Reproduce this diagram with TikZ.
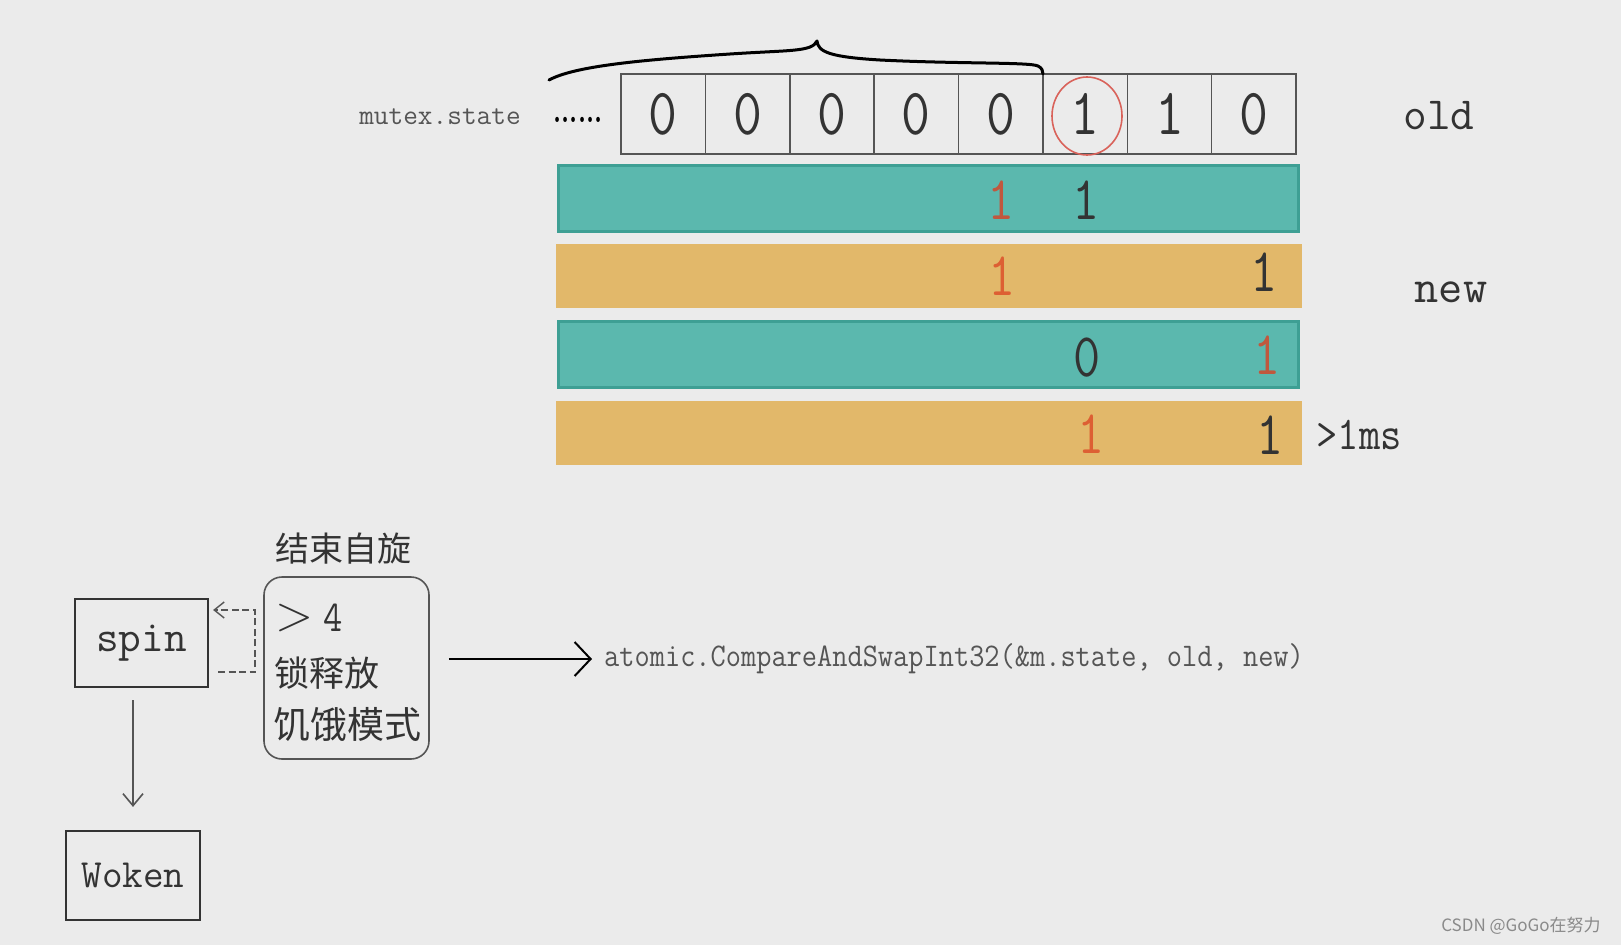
\documentclass[tikz,border=0pt]{standalone}
\usepackage{fontspec}
\newfontfamily\cjk{Noto Sans CJK SC}
\usetikzlibrary{arrows.meta,calc,shapes.geometric}
\definecolor{bg}{HTML}{EBEBEB}
\definecolor{teal1}{HTML}{5BB8AE}
\definecolor{teal2}{HTML}{3E9F94}
\definecolor{orng}{HTML}{E2B86A}
\definecolor{redd}{HTML}{DD5F33}
\definecolor{redt}{HTML}{C0583E}
\definecolor{circc}{HTML}{D9625A}
\definecolor{dk}{HTML}{333333}
\definecolor{gr}{HTML}{555555}
\definecolor{wmc}{HTML}{8A8A8A}
\begin{document}
\begin{tikzpicture}[x=1pt,y=-1pt,
  cell/.style={draw=gr, line width=1.5pt, minimum width=84.375pt, minimum height=80pt, inner sep=0pt,
     font=\ttfamily\fontsize{66}{66}\selectfont, text=dk},
  tealbar/.style={fill=teal1, draw=teal2, line width=3pt, minimum width=740pt, minimum height=66pt, inner sep=0pt},
  orangebar/.style={fill=orng, minimum width=746pt, minimum height=64pt, inner sep=0pt},
  bdig/.style={font=\ttfamily\fontsize{62}{62}\selectfont, inner sep=0pt},
  tlabel/.style={font=\ttfamily\fontsize{46}{46}\selectfont, text=dk, inner sep=0pt},
  boxnode/.style={draw=dk, line width=2.2pt, inner sep=0pt, text=dk},
  cjktext/.style={font=\cjk\fontsize{35}{35}\selectfont, text=dk, inner sep=0pt},
  barb/.style={-{Straight Barb[length=16pt,width=34pt,line width=2pt]}, line width=1.8pt}
]
\path[fill=bg, use as bounding box] (0,0) rectangle (1621,945);

% cells
\foreach \i/\d in {1/0,2/0,3/0,4/0,5/0,6/1,7/1,8/0}
  \node[cell] (c\i) at ({621+84.375*(\i-0.5)},114) {\scalebox{0.85}[1]{\d}};

% red circle
\node[draw=circc, ellipse, line width=1.6pt, minimum width=70pt, minimum height=78pt, inner sep=0pt] (circ) at (1087,116) {};

% brace
\draw[line width=3pt, line cap=round, line join=round]
  (549,80) .. controls (575,66) and (640,60) .. (730,54)
  .. controls (790,50) and (812,52) .. (817,41)
  .. controls (818,52) and (830,57) .. (880,60)
  .. controls (960,64) and (1030,62) .. (1038,66)
  .. controls (1042,68) and (1043,71) .. (1043,74);

% labels
\node[font=\ttfamily\fontsize{28.5}{28.5}\selectfont, text=gr, inner sep=0pt] (ms) at (440,117) {mutex.state};
\node[font=\rmfamily\bfseries\fontsize{36}{36}\selectfont, inner sep=0pt] (dots) at (578,120) {\scalebox{0.72}[1]{......}};
\node[tlabel] (old) at (1439,116) {old};
\node[tlabel, font=\ttfamily\fontsize{47}{47}\selectfont] (new) at (1451,292) {new};

% bars
\node[tealbar] (b1) at (928.5,198.5) {};
\node[orangebar] (b2) at (929,276) {};
\node[tealbar] (b3) at (928.5,354.5) {};
\node[orangebar] (b4) at (929,433) {};

\node[bdig, text=redt] (d11) at (1001,200) {\scalebox{0.85}[1]{1}};
\node[bdig, text=dk] (d12) at (1086,200) {\scalebox{0.85}[1]{1}};
\node[bdig, text=redd] (d21) at (1002,276) {\scalebox{0.85}[1]{1}};
\node[bdig, text=dk] (d22) at (1264,272) {\scalebox{0.85}[1]{1}};
\node[bdig, text=dk] (d31) at (1087,358) {\scalebox{0.85}[1]{0}};
\node[bdig, text=redt] (d32) at (1267,355) {\scalebox{0.85}[1]{1}};
\node[bdig, text=redd] (d41) at (1091,434) {\scalebox{0.85}[1]{1}};
\node[bdig, text=dk] (d42) at (1270,435) {\scalebox{0.85}[1]{1}};
\node[font=\ttfamily\fontsize{47}{47}\selectfont, text=dk, inner sep=0pt] (ms1) at (1359,435) {\scalebox{0.88}[1]{>1ms}};

% bottom part
\node[boxnode, minimum width=133pt, minimum height=88pt, font=\ttfamily\fontsize{44}{44}\selectfont] (spin) at (141.5,643) {spin};
\node[boxnode, minimum width=134pt, minimum height=89pt, font=\ttfamily\fontsize{40}{40}\selectfont] (woken) at (133,875.5) {Woken};
\node[draw=gr, line width=1.6pt, rounded corners=18pt, minimum width=165pt, minimum height=182pt, inner sep=0pt] (rb) at (346.5,668) {};

\node[cjktext, font=\cjk\fontsize{34}{34}\selectfont] (title) at (343,549) {结束自旋};
\node[font=\rmfamily\fontsize{50}{50}\selectfont, text=dk, inner sep=0pt] (gt) at (295,618) {>};
\node[font=\ttfamily\fontsize{44}{44}\selectfont, text=dk, inner sep=0pt] (four) at (333,618) {\scalebox{0.85}[1]{4}};
\node[cjktext] (l2) at (327,673) {锁释放};
\node[cjktext, font=\cjk\fontsize{37}{37}\selectfont] (l3) at (347,724) {饥饿模式};

\node[font=\ttfamily\fontsize{33}{33}\selectfont, text=gr, anchor=west, inner sep=0pt] (cas) at (604,659)
  {\scalebox{0.895}[1]{atomic.CompareAndSwapInt32(\&m.state, old, new)}};

% connectors
\draw[gr, line width=1.6pt, -{Straight Barb[length=12pt,width=20pt,line width=1.6pt]}]
  ($(woken.north |- spin.south)+(0,12)$) -- ($(woken.north)+(0,-23)$);
\draw[gr, line width=1.5pt, dash pattern=on 7pt off 3.5pt, -{Straight Barb[length=10pt,width=16pt,line width=1.4pt]}]
  ($(spin.east)+(9,29)$) -- ++(37,0) -- ++(0,-62) -- ($(spin.east)+(4,-33)$);
\draw[barb] ($(rb.east |- cas.west)+(19,0)$) -- ($(cas.west)+(-12,0)$);

% watermark
\node[font=\cjk\fontsize{17}{17}\selectfont, text=wmc, inner sep=0pt] (wm) at (1521,926) {CSDN @GoGo在努力};
\end{tikzpicture}
\end{document}
